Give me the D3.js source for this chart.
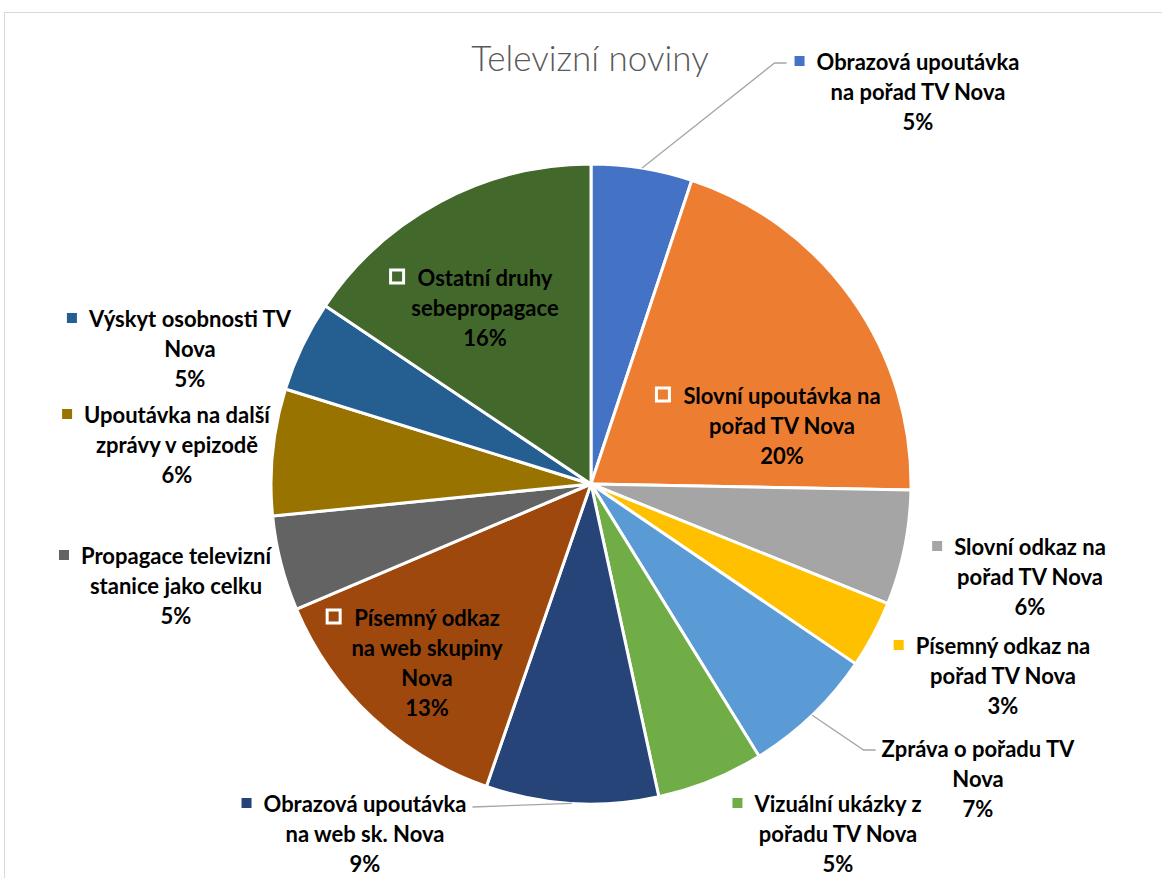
<!DOCTYPE html>
<html>
<head>
<meta charset="utf-8">
<script src="https://cdn.jsdelivr.net/npm/d3@7"></script>
<style>
  body { margin: 0; background: #fff; }
  svg { display: block; }
</style>
</head>
<body>
<script>
// slice names, "\n" marks where the label wraps
var categories = [
  "Obrazová upoutávka\nna pořad TV Nova",
  "Slovní upoutávka na\npořad TV Nova",
  "Slovní odkaz na\npořad TV Nova",
  "Písemný odkaz na\npořad TV Nova",
  "Zpráva o pořadu TV\nNova",
  "Vizuální ukázky z\npořadu TV Nova",
  "Obrazová upoutávka\nna web sk. Nova",
  "Písemný odkaz\nna web skupiny\nNova",
  "Propagace televizní\nstanice jako celku",
  "Upoutávka na další\nzprávy v epizodě",
  "Výskyt osobnosti TV\nNova",
  "Ostatní druhy\nsebepropagace"
];
// shares in percent
var shares = [5.1, 20.2, 5.8, 3.4, 6.7, 5.4, 8.7, 13.3, 4.8, 6.4, 4.6, 15.6];
var colors = ["#4472C4", "#ED7D31", "#A5A5A5", "#FFC000", "#5B9BD5", "#70AD47",
              "#264478", "#9E480E", "#636363", "#997300", "#255E91", "#43682B"];

// label layout (first line centre, relative to pie centre), inside or outside, leader or not
var labelAt = [[327, -423], [191, -89], [439, 62], [412, 161], [387, 264], [247, 319],
               [-226, 319], [-164, 133], [-415, 71], [-414, -70], [-401, -166], [-106, -207]];
var inside  = [false, true, false, false, false, false, false, true, false, false, false, true];
var leader  = [true, false, false, false, true, false, true, false, false, false, false, false];
var marker  = [true, true, true, true, false, true, true, true, true, true, true, true];

var width = 1162, height = 878;
var cx = 591, cy = 484, R = 320;
var lineH = 30;
var font = "Lato, 'Open Sans', sans-serif";

var svg = d3.select("body").append("svg")
            .attr("width", width)
            .attr("height", height);

// chart area frame
svg.append("rect")
   .attr("x", 4.5).attr("y", 12.5)
   .attr("width", width + 10).attr("height", height + 10)
   .attr("fill", "#fff")
   .attr("stroke", "#d9d9d9");

svg.append("text")
   .attr("x", 590).attr("y", 57)
   .attr("text-anchor", "middle")
   .attr("dominant-baseline", "central")
   .style("font-family", font)
   .style("font-weight", 300)
   .style("font-size", "35px")
   .attr("fill", "#595959")
   .text("Televizní noviny");

var pie = d3.pie().sort(null).value(function(d) { return d; });
var arcs = pie(shares);
var arc = d3.arc().innerRadius(0).outerRadius(R);

var g = svg.append("g").attr("transform", "translate(" + cx + "," + cy + ")");

g.selectAll("path.slice")
 .data(arcs)
 .enter()
 .append("path")
 .attr("class", "slice")
 .attr("d", arc)
 .attr("fill", function(d, i) { return colors[i]; })
 .attr("stroke", "#fff")
 .attr("stroke-width", 3)
 .attr("stroke-linejoin", "round");

var fmt = function(v) { return Math.round(v) + "%"; };

arcs.forEach(function(d, i) {
  var lines = categories[i].split("\n").concat([fmt(shares[i])]);
  var lx = labelAt[i][0], ly = labelAt[i][1];
  var lab = g.append("g");

  var t = lab.append("text")
             .attr("text-anchor", "middle")
             .style("font-family", font)
             .style("font-weight", 700)
             .style("font-size", "22px")
             .attr("fill", "#000");
  lines.forEach(function(s, k) {
    t.append("tspan")
     .attr("x", lx)
     .attr("y", ly + k * lineH)
     .attr("dominant-baseline", "central")
     .text(s);
  });

  var w0 = t.select("tspan").node().getComputedTextLength();
  var left = lx - w0 / 2;

  if (marker[i]) {
    if (inside[i]) {
      lab.append("rect")
         .attr("x", left - 27).attr("y", ly - 7)
         .attr("width", 13).attr("height", 13)
         .attr("fill", colors[i])
         .attr("stroke", "#fff")
         .attr("stroke-width", 3);
    } else {
      lab.append("rect")
         .attr("x", left - 22).attr("y", ly - 5)
         .attr("width", 10).attr("height", 10)
         .attr("fill", colors[i]);
    }
  }

  if (leader[i]) {
    var mid = (d.startAngle + d.endAngle) / 2;
    var px = Math.sin(mid) * R, py = -Math.cos(mid) * R;
    var pts;
    var edge = marker[i] ? left - 30 : left - 6;
    if (i === 6) {
      // bottom label: line runs from the arc to the right end of the first line
      pts = [[px, py], [lx + w0 / 2 + 6, ly + 4]];
    } else {
      pts = [[px, py], [edge - 12, ly + 2], [edge, ly + 2]];
    }
    g.insert("path", "g")
     .attr("d", d3.line()(pts))
     .attr("fill", "none")
     .attr("stroke", "#a6a6a6")
     .attr("stroke-width", 1.3);
  }
});
</script>
</body>
</html>
